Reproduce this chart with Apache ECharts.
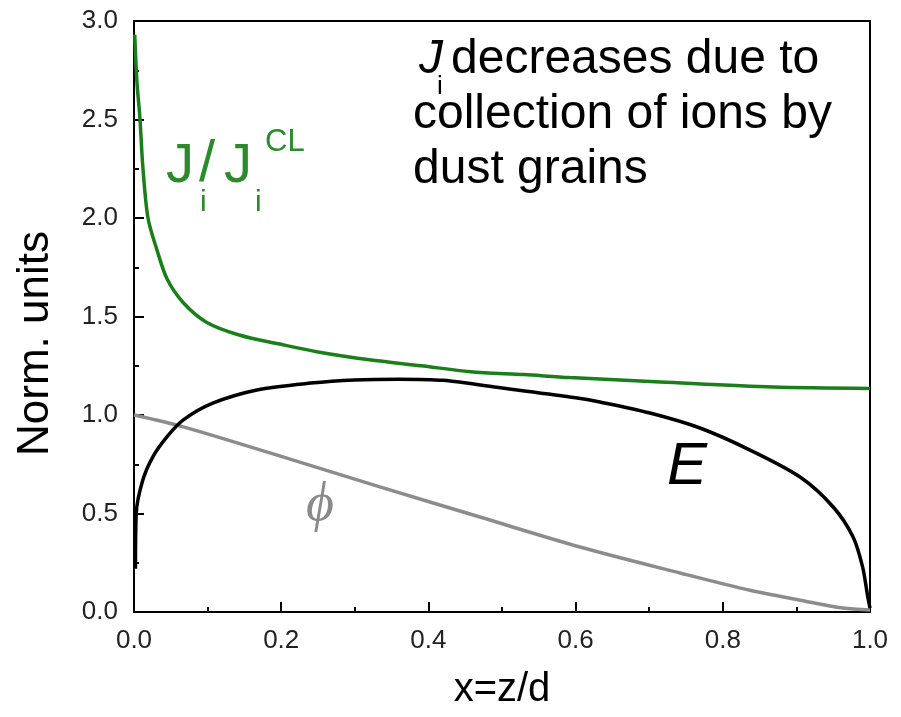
<!DOCTYPE html>
<html>
<head>
<meta charset="utf-8">
<script src="https://cdn.jsdelivr.net/npm/echarts@6/dist/echarts.min.js"></script>
<style>
  html, body { margin: 0; padding: 0; background: #fff; }
  #main { width: 901px; height: 717px; }
</style>
</head>
<body>
<div id="main"></div>
<script>
// J_i / J_i^CL  (green)
var jX = [0.001, 0.004, 0.008, 0.012, 0.019, 0.031, 0.045, 0.067, 0.099, 0.144, 0.198, 0.25, 0.32, 0.39, 0.457, 0.53, 0.592, 0.715, 0.868, 1.0];
var jY = [2.93, 2.69, 2.51, 2.26, 2.0, 1.84, 1.69, 1.57, 1.47, 1.405, 1.36, 1.32, 1.28, 1.25, 1.22, 1.205, 1.19, 1.168, 1.142, 1.135];

// E (black)
var eX = [0.002, 0.003, 0.012, 0.026, 0.045, 0.067, 0.107, 0.167, 0.24, 0.3, 0.36, 0.42, 0.5, 0.6, 0.633, 0.701, 0.769, 0.837, 0.905, 0.95, 0.977, 0.99, 0.997, 1.0];
var eY = [0.22, 0.5, 0.67, 0.79, 0.89, 0.975, 1.06, 1.127, 1.162, 1.178, 1.182, 1.176, 1.137, 1.088, 1.066, 1.01, 0.934, 0.822, 0.685, 0.533, 0.381, 0.228, 0.076, 0.02];

// phi (gray)
var pX = [0, 0.067, 0.2, 0.334, 0.47, 0.606, 0.742, 0.837, 0.905, 0.963, 1.0];
var pY = [1.0, 0.94, 0.79, 0.635, 0.482, 0.33, 0.198, 0.11, 0.06, 0.02, 0.01];

function pairs(xs, ys) {
    var out = [];
    for (var i = 0; i < xs.length; i++) out.push([xs[i], ys[i]]);
    return out;
}

var sans = 'Liberation Sans, Arial, sans-serif';
var green = '#2b8a2b';
var chart = echarts.init(document.getElementById('main'));

var option = {
    animation: false,
    grid: {
        left: 134, right: 31, top: 21, bottom: 105,
        show: true, borderColor: '#000', borderWidth: 2
    },
    xAxis: {
        type: 'value', min: 0, max: 1, interval: 0.2,
        name: 'x=z/d', nameLocation: 'middle', nameGap: 58,
        nameTextStyle: { fontSize: 40, color: '#000', fontFamily: sans },
        axisLine: { lineStyle: { color: '#000', width: 2 } },
        axisTick: { inside: true, length: 10, lineStyle: { color: '#000', width: 2 } },
        minorTick: { show: true, splitNumber: 2, length: 5, lineStyle: { color: '#000', width: 2 } },
        splitLine: { show: false },
        axisLabel: { fontSize: 26, color: '#222', fontFamily: sans, margin: 16,
            formatter: function (v) { return v.toFixed(1); } }
    },
    yAxis: {
        type: 'value', min: 0, max: 3, interval: 0.5,
        name: 'Norm. units', nameLocation: 'middle', nameGap: 76,
        nameTextStyle: { fontSize: 44, color: '#000', fontFamily: sans, padding: [0, 54, 0, 0] },
        axisLine: { lineStyle: { color: '#000', width: 2 } },
        axisTick: { inside: true, length: 10, lineStyle: { color: '#000', width: 2 } },
        minorTick: { show: true, splitNumber: 2, length: 5, lineStyle: { color: '#000', width: 2 } },
        splitLine: { show: false },
        axisLabel: { fontSize: 26, color: '#222', fontFamily: sans, margin: 16,
            formatter: function (v) { return v.toFixed(1); } }
    },
    series: [
        {
            name: 'phi', type: 'line', data: pairs(pX, pY),
            smooth: 0.3, showSymbol: false,
            lineStyle: { color: '#8c8c8c', width: 3.5 }
        },
        {
            name: 'E', type: 'line', data: pairs(eX, eY),
            smooth: 0.3, showSymbol: false,
            lineStyle: { color: '#000', width: 3.5 }
        },
        {
            name: 'J', type: 'line', data: pairs(jX, jY),
            smooth: 0.3, showSymbol: false,
            lineStyle: { color: '#1a7f1a', width: 3.5 }
        }
    ],
    graphic: [
        // green curve label
        { type: 'text', x: 166, y: 167, style: { text: 'J', fontSize: 56, fontFamily: sans, fill: green, verticalAlign: 'middle' } },
        { type: 'text', x: 199, y: 165, style: { text: '/', fontSize: 58, fontFamily: sans, fill: green, verticalAlign: 'middle' } },
        { type: 'text', x: 200, y: 203, style: { text: 'i', fontSize: 30, fontFamily: sans, fill: green, verticalAlign: 'middle' } },
        { type: 'text', x: 224, y: 167, style: { text: 'J', fontSize: 56, fontFamily: sans, fill: green, verticalAlign: 'middle' } },
        { type: 'text', x: 255, y: 203, style: { text: 'i', fontSize: 30, fontFamily: sans, fill: green, verticalAlign: 'middle' } },
        { type: 'text', x: 265, y: 142, style: { text: 'CL', fontSize: 31, fontFamily: sans, fill: green, verticalAlign: 'middle' } },
        // annotation
        { type: 'text', x: 419, y: 60, style: { text: 'J', fontSize: 48, fontStyle: 'italic', fontFamily: sans, fill: '#000', verticalAlign: 'middle' } },
        { type: 'text', x: 437, y: 87, style: { text: 'i', fontSize: 26, fontFamily: sans, fill: '#000', verticalAlign: 'middle' } },
        { type: 'text', x: 451, y: 60, style: { text: 'decreases due to', fontSize: 48, fontFamily: sans, fill: '#000', verticalAlign: 'middle' } },
        { type: 'text', x: 413, y: 115, style: { text: 'collection of ions by', fontSize: 48, fontFamily: sans, fill: '#000', verticalAlign: 'middle' } },
        { type: 'text', x: 413, y: 170, style: { text: 'dust grains', fontSize: 48, fontFamily: sans, fill: '#000', verticalAlign: 'middle' } },
        // E and phi
        { type: 'text', x: 667, y: 467, style: { text: 'E', fontSize: 60, fontStyle: 'italic', fontFamily: sans, fill: '#000', verticalAlign: 'middle' } },
        { type: 'text', x: 306, y: 506, style: { text: '\u03D5', fontSize: 54, fontStyle: 'italic', fontFamily: 'Liberation Serif, DejaVu Serif, serif', fill: '#8a8a8a', verticalAlign: 'middle' } }
    ]
};
chart.setOption(option);
</script>
</body>
</html>
